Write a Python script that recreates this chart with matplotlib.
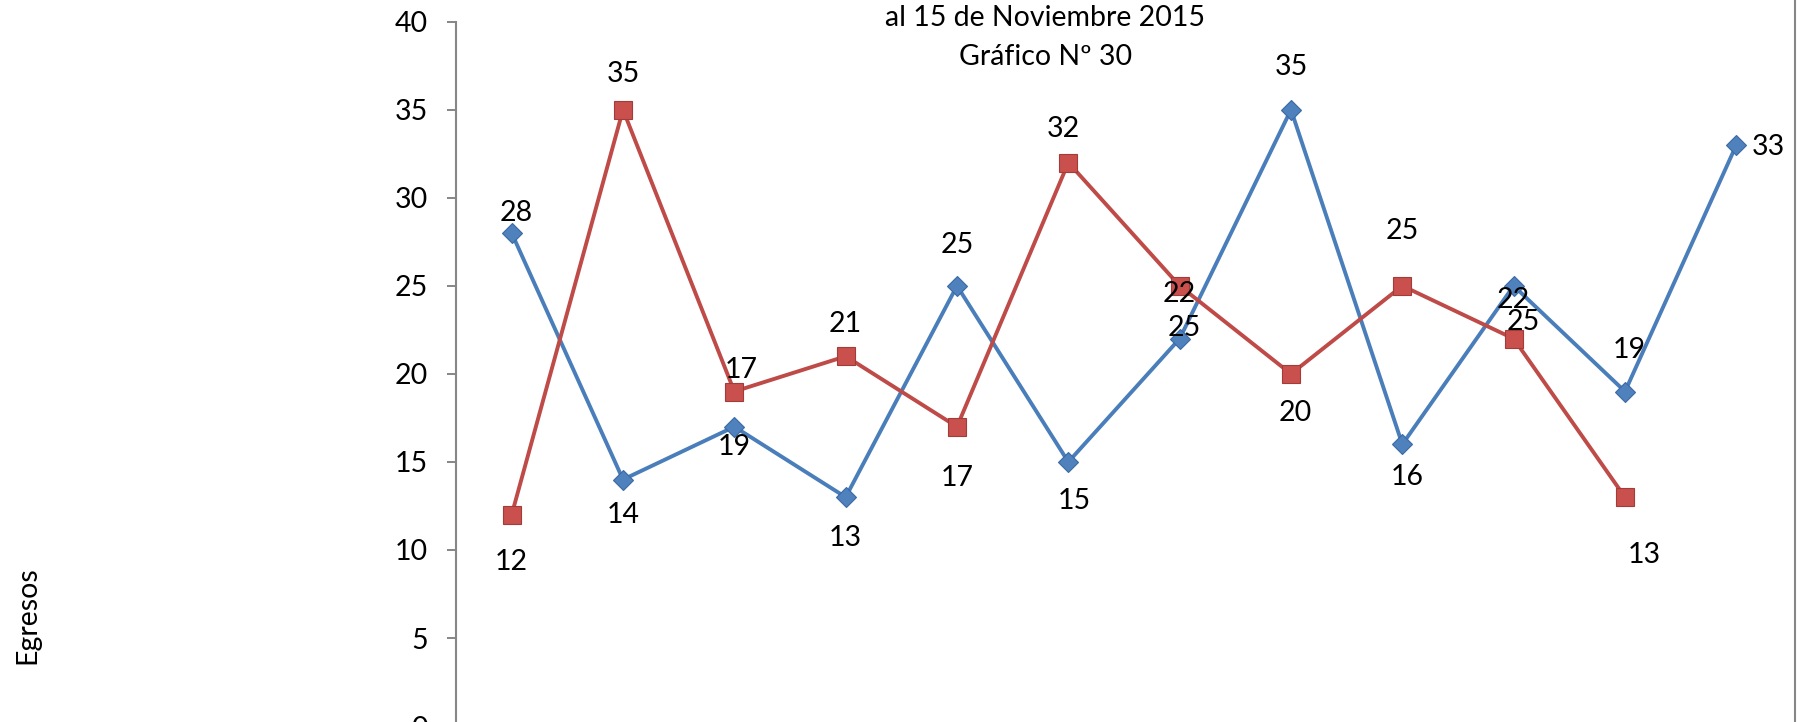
import numpy as np
import matplotlib
matplotlib.use("Agg")
import matplotlib.pyplot as plt
from matplotlib.lines import Line2D

plt.rcParams['font.family'] = ['Lato', 'DejaVu Sans']

# data (12 categories, second series has 11 values)
blue_vals = [28, 14, 17, 13, 25, 15, 22, 35, 16, 25, 19, 33]
red_vals = [12, 35, 19, 21, 17, 32, 25, 20, 25, 22, 13]
y_ticks = [0, 5, 10, 15, 20, 25, 30, 35, 40]
title_lines = ["al 15 de Noviembre 2015", "Gráfico Nº 30"]
y_label = "Egresos"

# label offsets in pixels (dx, dy) from each point
blue_offsets = [(5, 20), (0, -35), (7, 57), (0, -41), (0, 41), (6, -39),
                (0, 45), (0, 43), (5, -33), (10, -36), (4, 42), (32, -2)]
red_offsets = [(0, -47), (0, 36), (0, -55), (0, 32), (0, -51), (-5, 34),
               (5, -42), (4, -39), (0, 55), (0, 39), (19, -58)]

W, H = 1808, 722
fig = plt.figure(figsize=(W / 100, H / 100), dpi=100)
fig.patch.set_facecolor('white')

# axes placed in pixel terms; the bottom of the chart is cut off in the reference
left, right = 456, 1792
top_px, zero_px = 21.7, 726.1
ax = fig.add_axes([left / W, (H - zero_px) / H, (right - left) / W, (zero_px - top_px) / H])

xb = np.arange(1, len(blue_vals) + 1)
xr = np.arange(1, len(red_vals) + 1)

ax.plot(xb, blue_vals, color='#4A7EBB', lw=2.8, marker='D', ms=10,
        markerfacecolor='#4F81BD', markeredgecolor='#3A6AA5', markeredgewidth=0.8, zorder=3)
ax.plot(xr, red_vals, color='#BE4B48', lw=2.8, marker='s', ms=12.5,
        markerfacecolor='#C9504D', markeredgecolor='#A33B38', markeredgewidth=0.8, zorder=4)

fs = 20.5
for x, v, (dx, dy) in zip(xb, blue_vals, blue_offsets):
    ax.annotate(str(v), (x, v), xytext=(dx, dy), textcoords='offset pixels',
                ha='center', va='center', fontsize=fs, color='black', zorder=6)
for x, v, (dx, dy) in zip(xr, red_vals, red_offsets):
    ax.annotate(str(v), (x, v), xytext=(dx, dy), textcoords='offset pixels',
                ha='center', va='center', fontsize=fs, color='black', zorder=6)

ax.set_xlim(0.5, 12.5)
ax.set_ylim(0, 40)
ax.set_yticks(y_ticks)
ax.set_xticks([])
ax.tick_params(axis='y', direction='out', length=6.5, width=1.4, color='#868686',
               pad=14, labelsize=fs)
for side in ['top', 'right', 'bottom']:
    ax.spines[side].set_visible(False)
ax.spines['left'].set_color('#868686')
ax.spines['left'].set_linewidth(1.5)
ax.set_facecolor('none')

# title (upper lines are cut off in the reference)
fig.text(1045 / W, 1 - 18 / H, title_lines[0], ha='center', va='center', fontsize=fs)
fig.text(1046 / W, 1 - 57 / H, title_lines[1], ha='center', va='center', fontsize=fs)

fig.text(27 / W, 1 - 615 / H, y_label, rotation=90, ha='center', va='center', fontsize=fs)

# chart border on the right
fig.add_artist(Line2D([1795 / W, 1795 / W], [0, 1], transform=fig.transFigure,
                      color='#868686', lw=1.5))

fig.savefig('out.png', dpi=100)
